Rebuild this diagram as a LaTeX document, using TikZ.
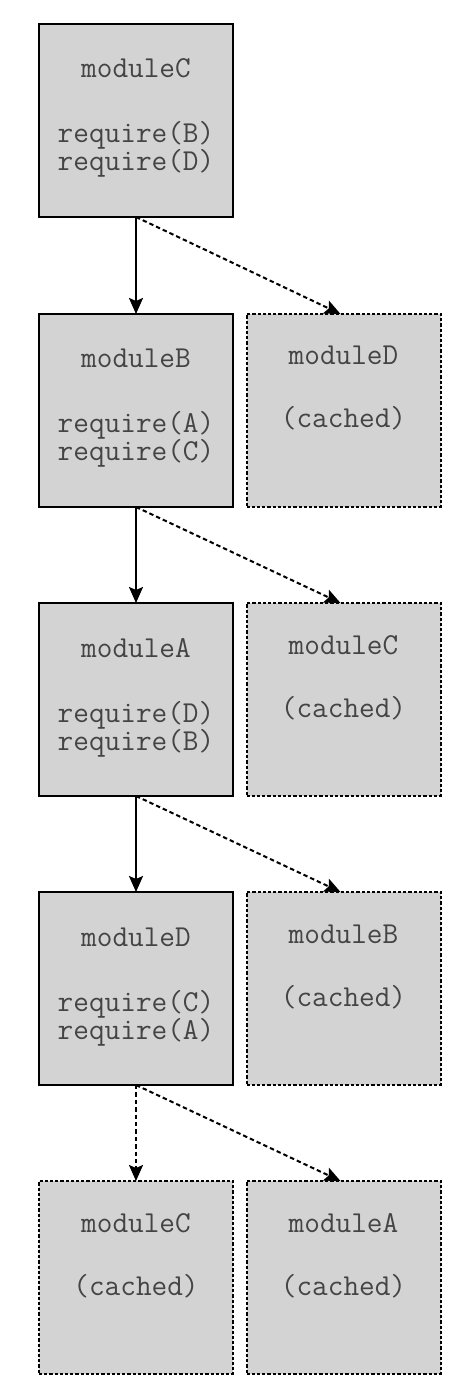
\documentclass[tikz,border=0pt]{standalone}
\usetikzlibrary{arrows.meta}
\definecolor{boxfill}{HTML}{D3D3D3}
\definecolor{txtgray}{HTML}{444444}
\begin{document}
\begin{tikzpicture}[x=0.5pt,y=-0.5pt,
  modbox/.style={draw=black, line width=1pt, fill=boxfill, minimum width=97pt, minimum height=96.5pt, inner sep=0pt, outer sep=0pt},
  cachebox/.style={modbox, dash pattern=on 1.6pt off 1pt},
  lbl/.style={font=\ttfamily\fontsize{15.2}{17}\selectfont, text=txtgray, anchor=base, inner sep=0pt},
  dep/.style={line width=1pt, -{Stealth[length=8pt,width=7pt,inset=1.5pt]}},
  cachedep/.style={dep, dash pattern=on 2.2pt off 1.5pt}]
\path[use as bounding box] (0,0) rectangle (462,1400);
% row 1
\node[modbox] (c1) at (136,120.5) {};
\node[lbl] (c1t) at (136,78) {moduleC};
\node[lbl] (c1a) at (136,143) {require(B)};
\node[lbl] (c1b) at (136,171) {require(D)};
% row 2
\node[modbox] (b2) at (136,410.5) {};
\node[lbl] (b2t) at (136,368) {moduleB};
\node[lbl] (b2a) at (136,433) {require(A)};
\node[lbl] (b2b) at (136,461) {require(C)};
\node[cachebox] (d2) at (343.5,410.5) {};
\node[lbl] (d2t) at (343.5,365) {moduleD};
\node[lbl] (d2c) at (343.5,428) {(cached)};
% row 3
\node[modbox] (a3) at (136,699.5) {};
\node[lbl] (a3t) at (136,657) {moduleA};
\node[lbl] (a3a) at (136,722) {require(D)};
\node[lbl] (a3b) at (136,750) {require(B)};
\node[cachebox] (c3) at (343.5,699.5) {};
\node[lbl] (c3t) at (343.5,654) {moduleC};
\node[lbl] (c3c) at (343.5,717) {(cached)};
% row 4
\node[modbox] (d4) at (136,988.5) {};
\node[lbl] (d4t) at (136,946) {moduleD};
\node[lbl] (d4a) at (136,1011) {require(C)};
\node[lbl] (d4b) at (136,1039) {require(A)};
\node[cachebox] (b4) at (343.5,988.5) {};
\node[lbl] (b4t) at (343.5,943) {moduleB};
\node[lbl] (b4c) at (343.5,1006) {(cached)};
% row 5
\node[cachebox] (c5) at (136,1277.5) {};
\node[lbl] (c5t) at (136,1232) {moduleC};
\node[lbl] (c5c) at (136,1295) {(cached)};
\node[cachebox] (a5) at (343.5,1277.5) {};
\node[lbl] (a5t) at (343.5,1232) {moduleA};
\node[lbl] (a5c) at (343.5,1295) {(cached)};
% connectors
\draw[dep] (c1.south) -- (b2.north);
\draw[cachedep] (c1.south) -- ([xshift=-1.5pt]d2.north);
\draw[dep] (b2.south) -- (a3.north);
\draw[cachedep] (b2.south) -- ([xshift=-1.5pt]c3.north);
\draw[dep] (a3.south) -- (d4.north);
\draw[cachedep] (a3.south) -- ([xshift=-1.5pt]b4.north);
\draw[cachedep] (d4.south) -- (c5.north);
\draw[cachedep] (d4.south) -- ([xshift=-1.5pt]a5.north);
\end{tikzpicture}
\end{document}
